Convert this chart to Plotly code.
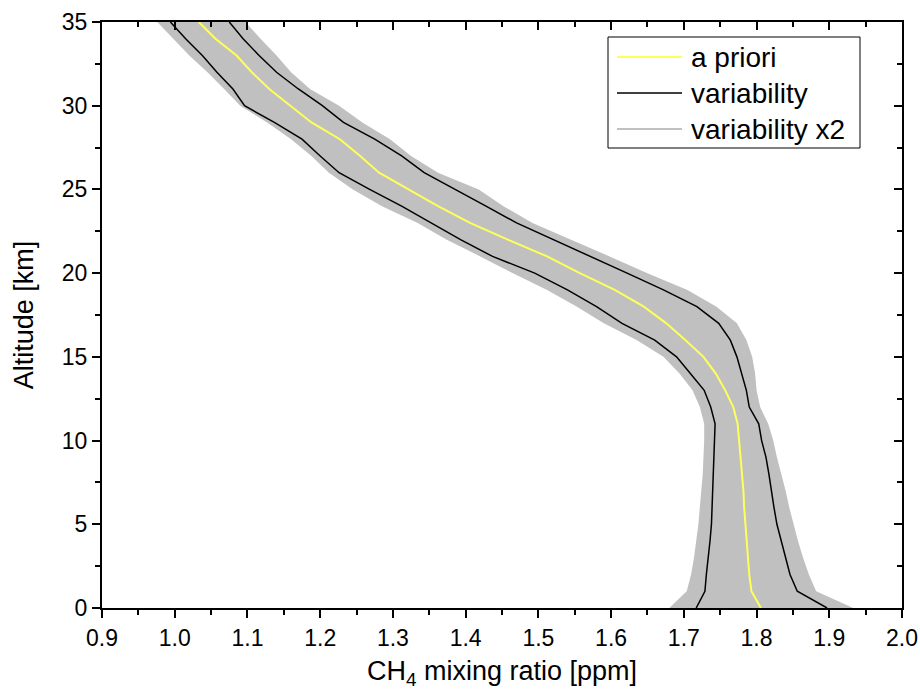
import plotly.graph_objects as go

# Altitude grid [km]
altitude = list(range(0, 36))

# A priori CH4 profile [ppm]
apriori = [1.806, 1.793, 1.790, 1.788, 1.786, 1.784, 1.783, 1.782, 1.780, 1.779,
           1.777, 1.774, 1.768, 1.757, 1.744, 1.727, 1.702, 1.676, 1.645, 1.605,
           1.557, 1.512, 1.458, 1.406, 1.362, 1.322, 1.281, 1.255, 1.227, 1.188,
           1.159, 1.130, 1.106, 1.085, 1.056, 1.033]

# Variability envelope (lower / upper) [ppm]
var_lo = [1.717, 1.729, 1.731, 1.734, 1.736, 1.738, 1.739, 1.740, 1.741, 1.742,
          1.743, 1.743, 1.737, 1.728, 1.709, 1.690, 1.660, 1.615, 1.580, 1.540,
          1.495, 1.437, 1.393, 1.352, 1.312, 1.268, 1.226, 1.200, 1.175, 1.137,
          1.096, 1.080, 1.058, 1.038, 1.015, 0.994]
var_hi = [1.897, 1.856, 1.846, 1.840, 1.834, 1.828, 1.824, 1.821, 1.817, 1.813,
          1.807, 1.803, 1.790, 1.786, 1.780, 1.773, 1.764, 1.748, 1.718, 1.672,
          1.622, 1.572, 1.520, 1.470, 1.428, 1.385, 1.343, 1.312, 1.275, 1.232,
          1.203, 1.170, 1.140, 1.116, 1.094, 1.075]

# Doubled variability envelope (lower / upper) [ppm]
var2_lo = [1.680, 1.704, 1.710, 1.714, 1.717, 1.720, 1.722, 1.724, 1.726, 1.727,
           1.728, 1.728, 1.722, 1.712, 1.694, 1.672, 1.635, 1.590, 1.553, 1.512,
           1.465, 1.420, 1.374, 1.334, 1.285, 1.245, 1.212, 1.188, 1.160, 1.127,
           1.090, 1.068, 1.045, 1.020, 0.998, 0.976]
var2_hi = [1.933, 1.882, 1.872, 1.864, 1.857, 1.851, 1.845, 1.840, 1.834, 1.828,
           1.823, 1.816, 1.805, 1.800, 1.798, 1.794, 1.786, 1.773, 1.745, 1.705,
           1.650, 1.598, 1.545, 1.492, 1.452, 1.418, 1.362, 1.325, 1.296, 1.258,
           1.226, 1.186, 1.160, 1.140, 1.118, 1.097]

# Legend entries
legend_labels = ["a priori", "variability", "variability x2"]

FONT = "Liberation Sans, Arial, sans-serif"
GRAY = "#c0c0c0"
YELLOW = "#ffff5a"
legend_colors = [YELLOW, "black", GRAY]
legend_widths = [2, 1.5, 2]

fig = go.Figure()

# shaded band for the doubled variability
fig.add_trace(go.Scatter(
    x=var2_lo + var2_hi[::-1], y=altitude + altitude[::-1],
    fill="toself", fillcolor=GRAY, mode="none", name=legend_labels[2],
    showlegend=False, hoverinfo="skip"))

fig.add_trace(go.Scatter(x=apriori, y=altitude, mode="lines", name=legend_labels[0],
                         line=dict(color=YELLOW, width=2), showlegend=False))
fig.add_trace(go.Scatter(x=var_lo, y=altitude, mode="lines", name=legend_labels[1],
                         line=dict(color="black", width=1.5), showlegend=False))
fig.add_trace(go.Scatter(x=var_hi, y=altitude, mode="lines", name=legend_labels[1],
                         line=dict(color="black", width=1.5), showlegend=False))
# mirrored frame on top / right with inward ticks
fig.add_trace(go.Scatter(x=[None], y=[None], xaxis="x2", yaxis="y2",
                         showlegend=False, hoverinfo="skip"))

axis_common = dict(showgrid=False, zeroline=False, showline=True,
                   linecolor="black", linewidth=2, tickcolor="black",
                   tickwidth=2, ticklen=8, layer="above traces", automargin=False)

# Legend box drawn in paper coordinates, with long line samples
L, R, T, B = 102, 18, 22, 89
W, H = 920 - L - R, 697 - T - B


def px(xp):
    return (xp - L) / W


def py(yp):
    return (697 - B - yp) / H


shapes = [dict(type="rect", xref="paper", yref="paper",
               x0=px(608), x1=px(860), y0=py(148), y1=py(37),
               line=dict(color="black", width=1), fillcolor="white", layer="above")]
annotations = []
row_y = [57, 93, 129]
for lab, col, wid, yy in zip(legend_labels, legend_colors, legend_widths, row_y):
    shapes.append(dict(type="line", xref="paper", yref="paper",
                       x0=px(617), x1=px(682), y0=py(yy), y1=py(yy),
                       line=dict(color=col, width=wid), layer="above"))
    annotations.append(dict(text=lab, xref="paper", yref="paper",
                            x=px(689), y=py(yy), xanchor="left", yanchor="middle",
                            showarrow=False, font=dict(size=28, family=FONT)))

fig.update_layout(
    width=920, height=697,
    margin=dict(l=L, r=R, t=T, b=B),
    paper_bgcolor="white", plot_bgcolor="white",
    font=dict(family=FONT, color="black", size=23),
    showlegend=False,
    shapes=shapes, annotations=annotations,
    xaxis=dict(range=[0.9, 2.0], dtick=0.1, tick0=0.9, tickformat=".1f",
               ticks="outside",
               minor=dict(ticks="outside", dtick=0.05, ticklen=5, tickwidth=1.5,
                          tickcolor="black"),
               title=dict(text="CH<sub>4</sub> mixing ratio [ppm]",
                          font=dict(size=27), standoff=12),
               tickfont=dict(size=23), **axis_common),
    yaxis=dict(range=[0, 35], dtick=5, ticks="outside",
               minor=dict(ticks="outside", dtick=2.5, ticklen=5, tickwidth=1.5,
                          tickcolor="black"),
               title=dict(text="Altitude [km]", font=dict(size=27), standoff=20),
               tickfont=dict(size=23), **axis_common),
    xaxis2=dict(range=[0.9, 2.0], dtick=0.1, tick0=0.9, overlaying="x",
                side="top", ticks="inside", showticklabels=False,
                minor=dict(ticks="inside", dtick=0.05, ticklen=5, tickwidth=1.5,
                           tickcolor="black"),
                **axis_common),
    yaxis2=dict(range=[0, 35], dtick=5, overlaying="y", side="right",
                ticks="inside", showticklabels=False,
                minor=dict(ticks="inside", dtick=2.5, ticklen=5, tickwidth=1.5,
                           tickcolor="black"),
                **axis_common),
)

fig.write_html("out.html")
